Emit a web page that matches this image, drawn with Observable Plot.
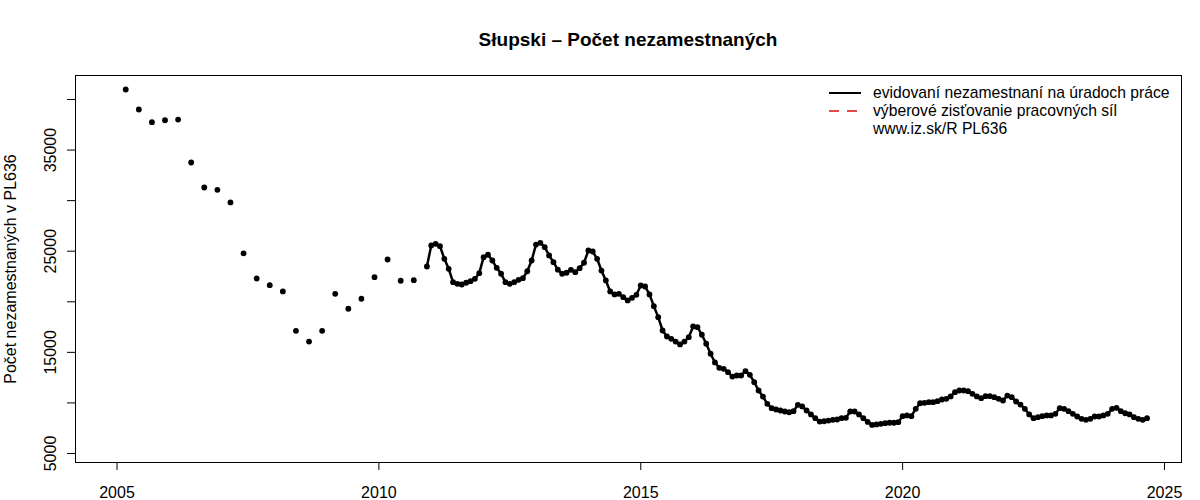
<!DOCTYPE html>
<html>
<head>
<meta charset="utf-8">
<script src="https://cdn.jsdelivr.net/npm/d3@7"></script>
<script src="https://cdn.jsdelivr.net/npm/@observablehq/plot@0.6"></script>
<style>
  html, body { margin: 0; padding: 0; background: #fff; }
  body { width: 1200px; height: 500px; position: relative; overflow: hidden;
         font-family: "Liberation Sans", Arial, Helvetica, sans-serif; }
  #title { position: absolute; left: 75px; width: 1106px; top: 28px; text-align: center;
           font-weight: bold; font-size: 19px; line-height: 24px; color: #000; }
  #chart { position: absolute; left: 0; top: 60px; }
  #legend { position: absolute; left: 825px; top: 84px; font-size: 15.7px; line-height: 18px; color: #000; }
  #legend .row { display: flex; align-items: center; height: 18px; white-space: nowrap; }
  #legend svg { width: 44px; height: 18px; flex: none; margin-right: 4px; }
</style>
</head>
<body>
<div id="title">Słupski – Počet nezamestnaných</div>
<div id="chart"></div>
<div id="legend">
  <div class="row"><svg><line x1="4" x2="36" y1="9" y2="9" stroke="#000" stroke-width="2"/></svg><span>evidovaní nezamestnaní na úradoch práce</span></div>
  <div class="row"><svg><line x1="4" x2="36" y1="9" y2="9" stroke="#e34a4a" stroke-width="2" stroke-dasharray="10,8"/></svg><span>výberové zisťovanie pracovných síl</span></div>
  <div class="row"><svg></svg><span>www.iz.sk/R PL636</span></div>
</div>
<script>
// Quarterly observations (points only), starting Feb 2005, every 3 months
const quarterlyStart = [2005, 2];
const quarterlyValues = [
  40990, 39010, 37760, 37950, 38020, 33770, 31300, 31070, 29820, 24780,
  22300, 21640, 21020, 17130, 16070, 17130, 20790, 19310, 20300, 22430,
  24180, 22080, 22140
];

// Monthly observations (line + points), starting Nov 2010
const monthlyStart = [2010, 11];
const monthlyValues = [
  23490, 25570, 25730, 25500, 24250, 23260, 21940, 21780, 21710, 21880,
  22040, 22270, 22830, 24410, 24650, 24080, 23360, 22770, 21940, 21780,
  21940, 22170, 22330, 23020, 24080, 25660, 25830, 25400, 24580, 23920,
  23170, 22770, 22870,
  23160, 22930, 23320, 23860, 25070, 24970, 24250, 23090, 22110, 21020,
  20730, 20790, 20460, 20130, 20390, 20690, 21610, 21510, 20730, 19570,
  18480, 17160, 16570, 16340, 16070, 15780, 16070, 16500, 17560, 17490,
  16740, 15850, 14860, 14000,
  13470, 13370, 13040, 12610, 12710, 12710, 13140, 12780, 12050, 11230,
  10630, 9910, 9480, 9350, 9250, 9150, 9080, 9180, 9810, 9650,
  9250, 8860, 8490, 8160, 8190, 8260, 8330, 8360, 8490, 8530,
  9150, 9150, 8860, 8490, 8120,
  7830, 7870, 7930, 8000, 8040, 8040, 8100, 8690, 8760, 8690,
  9420, 9970, 10010, 10070, 10070, 10170, 10340, 10410, 10640, 11060,
  11230, 11230, 11160, 10900, 10640, 10470, 10670, 10670, 10570, 10410,
  10240, 10730, 10570, 10140,
  9840, 9420, 8860, 8490, 8590, 8690, 8760, 8760, 8920, 9480,
  9420, 9180, 8920, 8660, 8430, 8330, 8430, 8660, 8660, 8760,
  8920, 9420, 9520, 9180, 8980, 8860, 8590, 8430, 8330, 8490
];

const xTicks = [2005, 2010, 2015, 2020, 2025];
const yTicks = [5000, 10000, 15000, 20000, 25000, 30000, 35000, 40000];
const yTickLabels = [5000, 15000, 25000, 35000];
const yAxisTitle = "Počet nezamestnaných v PL636";

const toYear = (y, m) => y + m / 12;
const quarterly = quarterlyValues.map((v, i) => {
  const m = quarterlyStart[1] + 3 * i;
  return {t: toYear(quarterlyStart[0], m), v};
});
const monthly = monthlyValues.map((v, i) => {
  const m = monthlyStart[1] + i;
  return {t: toYear(monthlyStart[0], m), v};
});

const font = "Liberation Sans, Arial, Helvetica, sans-serif";

const chart = Plot.plot({
  width: 1200,
  height: 440,
  marginTop: 15,
  marginBottom: 38,
  marginLeft: 75,
  marginRight: 19,
  style: {fontFamily: font, fontSize: "16px", background: "white", color: "black", overflow: "visible"},
  x: {domain: [2004.2076, 2025.3246], axis: null},
  y: {domain: [4110, 42373], axis: null},
  marks: [
    Plot.frame({stroke: "#000", strokeWidth: 1}),
    Plot.axisX({ticks: xTicks, tickSize: 8, tickPadding: 16, tickFormat: d => String(d), fontSize: 16, label: null}),
    Plot.axisY({ticks: yTicks, tickSize: 8, tickFormat: () => "", label: null}),
    Plot.text(yTickLabels, {y: d => d, frameAnchor: "left", dx: -25, rotate: -90, textAnchor: "middle", text: d => String(d), fontSize: 16, fill: "#000"}),
    Plot.text([yAxisTitle], {frameAnchor: "left", dx: -65, rotate: -90, textAnchor: "middle", text: d => d, fontSize: 16, fill: "#000"}),
    Plot.line(monthly, {x: "t", y: "v", stroke: "#000", strokeWidth: 2.5, strokeLinejoin: "round"}),
    Plot.dot(monthly, {x: "t", y: "v", r: 2.9, fill: "#000", stroke: "none"}),
    Plot.dot(quarterly, {x: "t", y: "v", r: 2.9, fill: "#000", stroke: "none"})
  ]
});
document.getElementById("chart").appendChild(chart);
</script>
</body>
</html>
